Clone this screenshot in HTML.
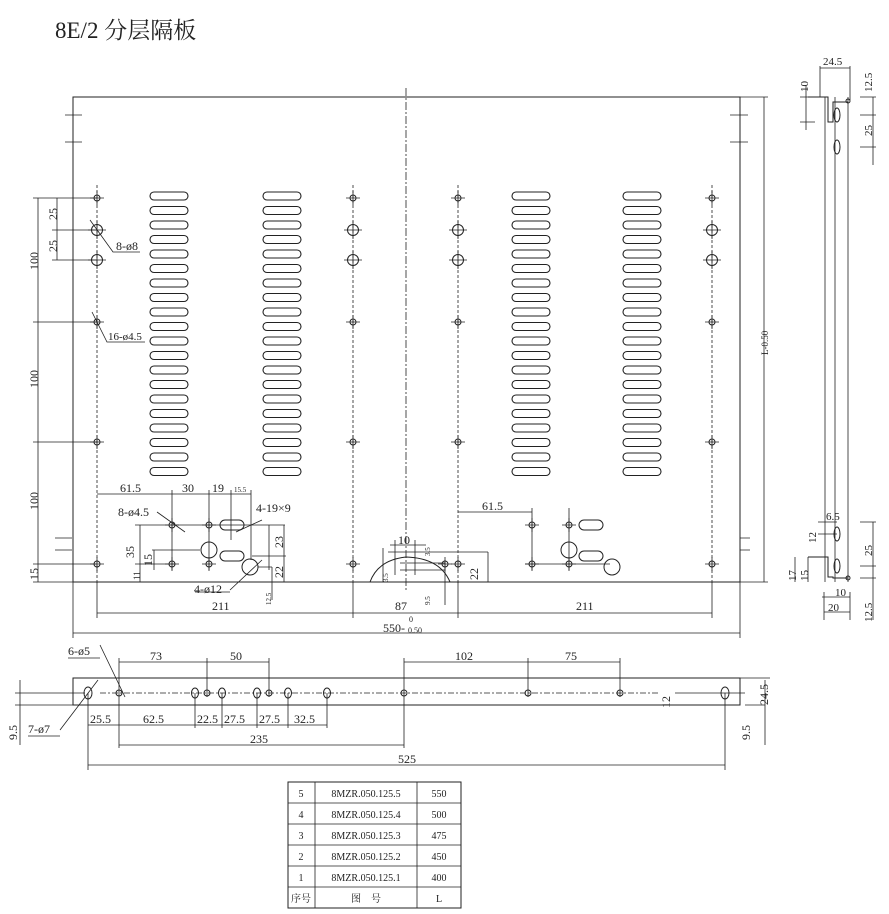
<!DOCTYPE html>
<html><head><meta charset="utf-8"><style>
html,body{margin:0;padding:0;background:#fff}
svg{display:block}
text{font-family:"Liberation Serif","Noto Serif CJK SC",serif;fill:#222}
</style></head><body>
<svg width="889" height="914" viewBox="0 0 889 914" xmlns="http://www.w3.org/2000/svg">
<defs>
<g id="col" fill="none" stroke="#222" stroke-width="1.1">
<rect x="0" y="192" width="38" height="8" rx="4"/><rect x="0" y="206.5" width="38" height="8" rx="4"/>
<rect x="0" y="221" width="38" height="8" rx="4"/><rect x="0" y="235.5" width="38" height="8" rx="4"/>
<rect x="0" y="250" width="38" height="8" rx="4"/><rect x="0" y="264.5" width="38" height="8" rx="4"/>
<rect x="0" y="279" width="38" height="8" rx="4"/><rect x="0" y="293.5" width="38" height="8" rx="4"/>
<rect x="0" y="308" width="38" height="8" rx="4"/><rect x="0" y="322.5" width="38" height="8" rx="4"/>
<rect x="0" y="337" width="38" height="8" rx="4"/><rect x="0" y="351.5" width="38" height="8" rx="4"/>
<rect x="0" y="366" width="38" height="8" rx="4"/><rect x="0" y="380.5" width="38" height="8" rx="4"/>
<rect x="0" y="395" width="38" height="8" rx="4"/><rect x="0" y="409.5" width="38" height="8" rx="4"/>
<rect x="0" y="424" width="38" height="8" rx="4"/><rect x="0" y="438.5" width="38" height="8" rx="4"/>
<rect x="0" y="453" width="38" height="8" rx="4"/><rect x="0" y="467.5" width="38" height="8" rx="4"/>
</g>
<g id="hs"><circle r="3" fill="none" stroke="#222" stroke-width="1"/><path d="M-7 0H7M0 -7V7" stroke="#222" stroke-width="0.8"/></g>
<g id="hl"><circle r="5.5" fill="none" stroke="#222" stroke-width="1"/><path d="M-9 0H9M0 -9V9" stroke="#222" stroke-width="0.8"/></g>
</defs>
<g stroke="#222" fill="none" stroke-width="1">
<text x="55" y="38" font-size="23" stroke="none">8E/2 分层隔板</text>
<rect x="73" y="97" width="667" height="485"/>
<path d="M406 88V592" stroke-dasharray="8 2 2 2" stroke-width="0.8"/>
<path d="M97 185V585M353 185V585M458 185V585M712 185V585" stroke-dasharray="3 2" stroke-width="0.8"/>
<path d="M65 115H82M65 142H82M730 115H748M730 142H748M55 538H72M55 550H72M740 538H750M740 550H750" stroke-width="0.8"/>
<use href="#col" x="150"/><use href="#col" x="263"/><use href="#col" x="512"/><use href="#col" x="623"/>
<use href="#hs" x="97" y="198"/><use href="#hl" x="97" y="230"/><use href="#hl" x="97" y="260"/><use href="#hs" x="97" y="322"/><use href="#hs" x="97" y="442"/><use href="#hs" x="97" y="564"/>
<use href="#hs" x="353" y="198"/><use href="#hl" x="353" y="230"/><use href="#hl" x="353" y="260"/><use href="#hs" x="353" y="322"/><use href="#hs" x="353" y="442"/><use href="#hs" x="353" y="564"/>
<use href="#hs" x="458" y="198"/><use href="#hl" x="458" y="230"/><use href="#hl" x="458" y="260"/><use href="#hs" x="458" y="322"/><use href="#hs" x="458" y="442"/><use href="#hs" x="458" y="564"/>
<use href="#hs" x="712" y="198"/><use href="#hl" x="712" y="230"/><use href="#hl" x="712" y="260"/><use href="#hs" x="712" y="322"/><use href="#hs" x="712" y="442"/><use href="#hs" x="712" y="564"/>
<path d="M38 198V582M33 198H97M33 322H97M33 442H97M33 564H97M33 582H73M57 198V260M52 198H97M52 230H97M52 260H97" stroke-width="0.8"/>
<g font-size="12" stroke="none">
<text transform="translate(38,270) rotate(-90)">100</text>
<text transform="translate(38,388) rotate(-90)">100</text>
<text transform="translate(38,510) rotate(-90)">100</text>
<text transform="translate(38,580) rotate(-90)">15</text>
<text transform="translate(57,220) rotate(-90)">25</text>
<text transform="translate(57,252) rotate(-90)">25</text>
<text x="116" y="250">8-ø8</text>
<text x="108" y="340" font-size="11">16-ø4.5</text>
</g>
<path d="M90 220L113 252H140M92 312L107 342H145" stroke-width="0.8"/>
<use href="#hs" x="172" y="525"/><use href="#hs" x="209" y="525"/><use href="#hs" x="172" y="564"/><use href="#hs" x="209" y="564"/>
<circle cx="209" cy="550" r="8"/>
<rect x="220" y="520" width="24" height="10" rx="5"/><rect x="220" y="551" width="24" height="10" rx="5"/>
<circle cx="250" cy="567" r="8"/>
<path d="M97 494H251M172 490V570M209 490V570M231 490V540M251 490V560M135 525H285M152 550H200M135 564H175M252 556H286M258 567H272M140 525V582M154 550V570M284 525V582M272 567V600M269 525V570" stroke-width="0.8"/>
<path d="M157 512L185 532M262 520L236 532M230 590L262 560M195 592H230" stroke-width="0.8"/>
<g font-size="12" stroke="none">
<text x="120" y="492">61.5</text><text x="182" y="492">30</text><text x="212" y="492">19</text><text x="234" y="492" font-size="7">15.5</text>
<text x="118" y="516">8-ø4.5</text><text x="256" y="512">4-19×9</text><text x="194" y="593">4-ø12</text>
<text transform="translate(134,558) rotate(-90)">35</text>
<text transform="translate(152,566) rotate(-90)">15</text>
<text transform="translate(140,580) rotate(-90)" font-size="9">11</text>
<text transform="translate(283,548) rotate(-90)">23</text>
<text transform="translate(283,578) rotate(-90)">22</text>
<text transform="translate(271,605) rotate(-90)" font-size="7">12.5</text>
</g>
<use href="#hs" x="532" y="525"/><use href="#hs" x="569" y="525"/><use href="#hs" x="532" y="564"/><use href="#hs" x="569" y="564"/>
<circle cx="569" cy="550" r="8"/>
<rect x="579" y="520" width="24" height="10" rx="5"/><rect x="579" y="551" width="24" height="10" rx="5"/>
<circle cx="612" cy="567" r="8"/>
<path d="M458 512H532M532 508V570M569 508V570M525 564H610" stroke-width="0.8"/>
<text x="482" y="510" font-size="12" stroke="none">61.5</text>
<path d="M370 582Q378 560 406 557Q440 558 450 582"/>
<path d="M390 545H426M395 540V575M415 540V575M388 552H488M400 563H445M400 570H445M488 552V582M445 560V605M383 548V582" stroke-width="0.8"/>
<use href="#hs" x="445" y="564"/>
<g font-size="12" stroke="none"><text x="398" y="544">10</text>
<text transform="translate(478,580) rotate(-90)">22</text>
<text transform="translate(430,556) rotate(-90)" font-size="7">3.5</text>
<text transform="translate(388,582) rotate(-90)" font-size="7">3.5</text>
<text transform="translate(430,605) rotate(-90)" font-size="7">9.5</text></g>
<path d="M97 582V618M353 582V618M458 582V618M712 582V618M97 613H712M73 582V638M740 582V638M73 633H740" stroke-width="0.8"/>
<g font-size="12" stroke="none"><text x="212" y="610">211</text><text x="395" y="610">87</text><text x="576" y="610">211</text>
<text x="383" y="632">550-</text><text x="408" y="633" font-size="8">0.50</text><text x="409" y="622" font-size="8">0</text></g>
<path d="M740 97H768M740 582H768M764 97V582" stroke-width="0.8"/>
<text transform="translate(768,355) rotate(-90)" font-size="9" stroke="none">L-0.50</text>
<path d="M825 97V582M848 97V582M835 97V582" stroke-width="0.8"/>
<path d="M808 97H828V122H833V102H848" />
<circle cx="848" cy="101" r="2"/>
<ellipse cx="837" cy="115" rx="3" ry="7"/><ellipse cx="837" cy="147" rx="3" ry="7"/>
<ellipse cx="837" cy="534" rx="3" ry="7"/><ellipse cx="837" cy="566" rx="3" ry="7"/>
<path d="M808 557H828V577H833V578H848" /><circle cx="848" cy="578" r="2"/>
<path d="M820 68H850M820 66V97M850 66V100M873 97V165M860 97H876M860 115H876M860 147H876M800 97H815M800 122H815M806 85V130M873 522V620M860 522H876M860 566H876M860 578H876M808 557V582M795 557V582M822 597H850M824 612H850M824 592V620M850 592V620M818 522H837M818 534H837" stroke-width="0.8"/>
<g font-size="11" stroke="none"><text x="823" y="65">24.5</text><text x="826" y="520">6.5</text><text x="835" y="596">10</text><text x="828" y="611">20</text>
<text transform="translate(808,92) rotate(-90)">10</text>
<text transform="translate(872,92) rotate(-90)">12.5</text>
<text transform="translate(872,136) rotate(-90)">25</text>
<text transform="translate(816,543) rotate(-90)">12</text>
<text transform="translate(872,556) rotate(-90)">25</text>
<text transform="translate(796,581) rotate(-90)">17</text>
<text transform="translate(808,581) rotate(-90)">15</text>
<text transform="translate(872,622) rotate(-90)">12.5</text></g>
<rect x="73" y="678" width="667" height="27"/>
<path d="M100 693H660" stroke-dasharray="6 2 2 2" stroke-width="0.8"/>
<ellipse cx="88" cy="693" rx="4" ry="6"/><ellipse cx="725" cy="693" rx="4" ry="6"/>
<ellipse cx="195" cy="693" rx="3.5" ry="5"/><ellipse cx="222" cy="693" rx="3.5" ry="5"/><ellipse cx="257" cy="693" rx="3.5" ry="5"/><ellipse cx="288" cy="693" rx="3.5" ry="5"/><ellipse cx="327" cy="693" rx="3.5" ry="5"/>
<circle cx="119" cy="693" r="3"/><circle cx="207" cy="693" r="3"/><circle cx="269" cy="693" r="3"/><circle cx="404" cy="693" r="3"/><circle cx="528" cy="693" r="3"/><circle cx="620" cy="693" r="3"/>
<path d="M119 662H269M119 658V697M207 658V697M269 658V697M404 662H620M404 658V748M528 658V697M620 658V697M88 725H327M88 693V770M119 693V748M195 693V728M222 693V728M257 693V728M288 693V728M327 693V728M119 745H404M88 765H725M725 693V770M15 693H85M15 705H73M20 680V745M675 693H745M745 705H765M765 680V745M740 678H770M675 705H690" stroke-width="0.8"/>
<path d="M60 730L98 680M100 645L125 697" stroke-width="0.8"/>
<g font-size="12" stroke="none">
<text x="150" y="660">73</text><text x="230" y="660">50</text><text x="455" y="660">102</text><text x="565" y="660">75</text>
<text x="90" y="723">25.5</text><text x="143" y="723">62.5</text><text x="197" y="723">22.5</text><text x="224" y="723">27.5</text><text x="259" y="723">27.5</text><text x="294" y="723">32.5</text>
<text x="250" y="743">235</text><text x="398" y="763">525</text>
<text x="68" y="655">6-ø5</text><text x="28" y="733">7-ø7</text>
<text transform="translate(17,740) rotate(-90)">9.5</text>
<text transform="translate(750,740) rotate(-90)">9.5</text>
<text transform="translate(670,708) rotate(-90)">12</text>
<text transform="translate(768,705) rotate(-90)">24.5</text></g>
<path d="M68 658H100M28 736H60" stroke-width="0.8"/>
<rect x="288" y="782" width="173" height="126"/>
<path d="M288 803H461M288 824H461M288 845H461M288 866H461M288 887H461M315 782V908M417 782V908" stroke-width="0.8"/>
<g font-size="10" stroke="none" text-anchor="middle">
<text x="301" y="797">5</text><text x="366" y="797">8MZR.050.125.5</text><text x="439" y="797">550</text>
<text x="301" y="818">4</text><text x="366" y="818">8MZR.050.125.4</text><text x="439" y="818">500</text>
<text x="301" y="839">3</text><text x="366" y="839">8MZR.050.125.3</text><text x="439" y="839">475</text>
<text x="301" y="860">2</text><text x="366" y="860">8MZR.050.125.2</text><text x="439" y="860">450</text>
<text x="301" y="881">1</text><text x="366" y="881">8MZR.050.125.1</text><text x="439" y="881">400</text>
<text x="301" y="902">序号</text><text x="366" y="902">图　号</text><text x="439" y="902">L</text>
</g>
</g>
</svg>
</body></html>
